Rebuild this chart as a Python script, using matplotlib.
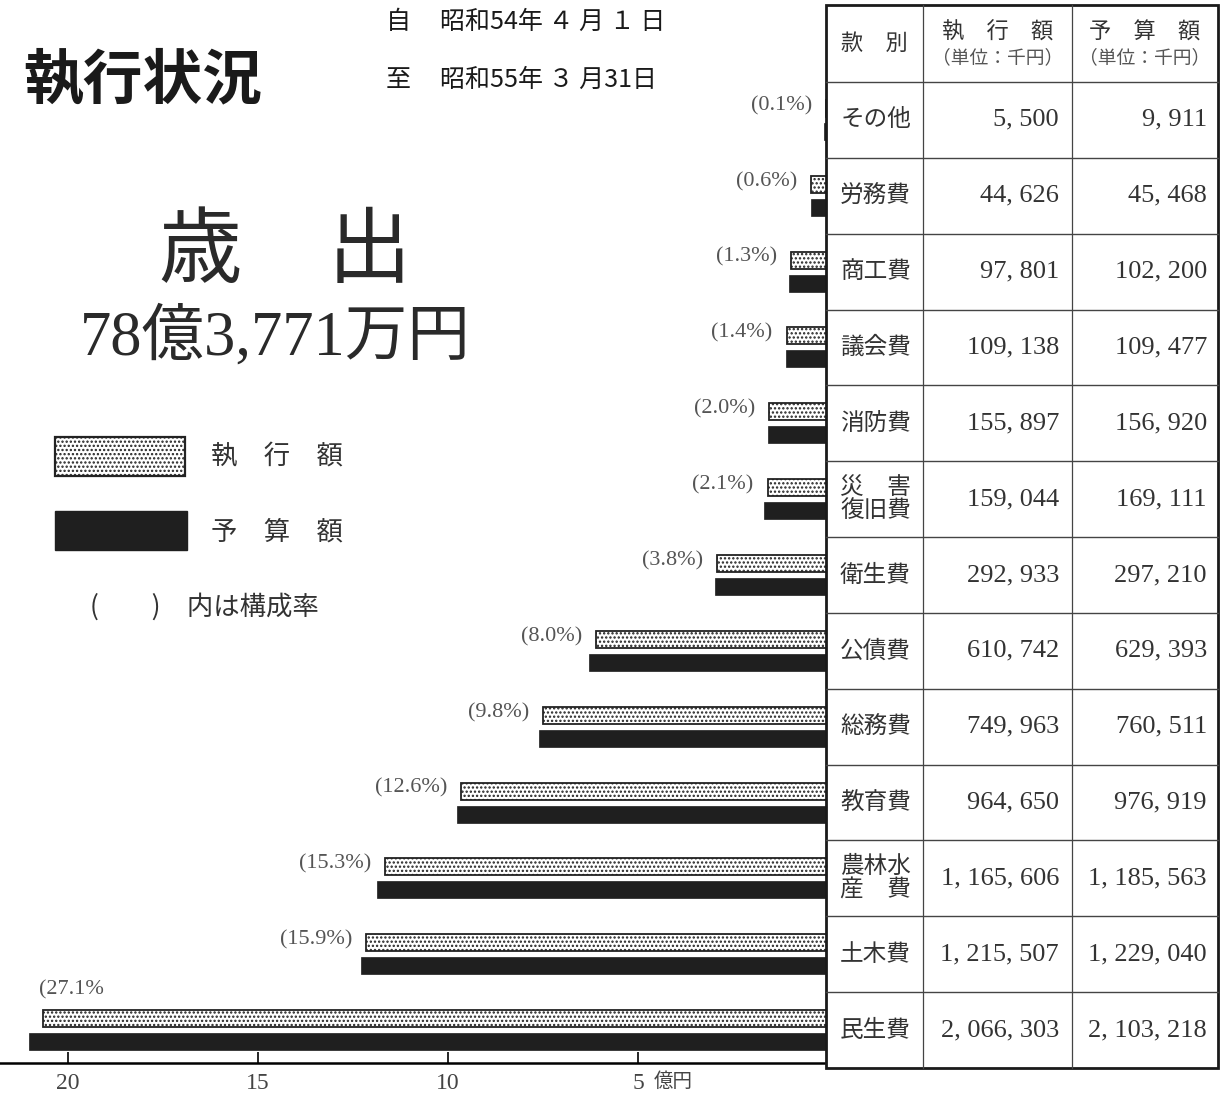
import matplotlib
matplotlib.use("Agg")
import matplotlib.pyplot as plt
from matplotlib.patches import Rectangle

plt.rcParams['font.family'] = ['Noto Sans CJK JP', 'DejaVu Sans']
plt.rcParams['hatch.linewidth'] = 1.1

# 款別（上から）
categories = ['その他', '労務費', '商工費', '議会費', '消防費', '災害復旧費', '衛生費',
              '公債費', '総務費', '教育費', '農林水産費', '土木費', '民生費']
# 表示用の款名（2行のもの）
cat_labels = ['その他', '労務費', '商工費', '議会費', '消防費', '災　害\n復旧費', '衛生費',
              '公債費', '総務費', '教育費', '農林水\n産　費', '土木費', '民生費']
# 執行額・予算額（単位：千円）
exec_vals = [5500, 44626, 97801, 109138, 155897, 159044, 292933,
             610742, 749963, 964650, 1165606, 1215507, 2066303]
budget_vals = [9911, 45468, 102200, 109477, 156920, 169111, 297210,
               629393, 760511, 976919, 1185563, 1229040, 2103218]
# 構成率
pct = ['0.1', '0.6', '1.3', '1.4', '2.0', '2.1', '3.8',
       '8.0', '9.8', '12.6', '15.3', '15.9', '27.1']
xticks = [20, 15, 10, 5]

W, H = 1222, 1093
fig = plt.figure(figsize=(W / 100, H / 100), dpi=100)

serif = ['Liberation Serif', 'Noto Sans CJK JP']
ink = '#2a2a2a'

# ---- 棒グラフ（億円、左向き）
row_h = 75.85
top_px, base_px, zero_px = 82, 1063, 828
ax = fig.add_axes([0, 1 - base_px / H, zero_px / W, (base_px - top_px) / H])
n = len(categories)
ex = [v / 1e5 for v in exec_vals]   # 千円 -> 億円
bu = [v / 1e5 for v in budget_vals]
y_ex = [i + 0.5 - 11.5 / row_h for i in range(n)]
y_bu = [i + 0.5 + 11.5 / row_h for i in range(n)]
bh = 17 / row_h
ax.barh(y_ex, ex, height=bh, color='white', edgecolor='#222222', hatch='....', lw=1.3)
ax.barh(y_bu, bu, height=bh, color='#1f1f1f', edgecolor='#1f1f1f', lw=0.5)

for i in range(n):
    if bu[i] > 20:
        ax.annotate(f'({pct[i]}%', (ex[i], y_ex[i]), xytext=(-3, 21), textcoords='offset points',
                    ha='left', va='center', fontsize=16, color='#555555', family=serif)
    else:
        ax.annotate(f'({pct[i]}%)', (ex[i], y_ex[i]), xytext=(-10, 2), textcoords='offset points',
                    ha='right', va='center', fontsize=16, color='#555555', family=serif)

ax.set_xlim(zero_px / 38.0, 0)
ax.set_ylim((base_px - top_px) / row_h, 0)
ax.set_yticks([])
ax.set_xticks(xticks)
ax.set_xticklabels([str(t) for t in xticks], family=serif, fontsize=17, color='#444444')
ax.annotate('億円', (5, 0), xycoords=('data', 'axes fraction'), xytext=(11, -6),
            textcoords='offset points', ha='left', va='top', fontsize=14, color='#444444')
ax.tick_params(axis='x', direction='in', length=8, width=1.2, pad=7)
for s in ['top', 'left', 'right']:
    ax.spines[s].set_visible(False)
ax.spines['bottom'].set_linewidth(1.8)
ax.patch.set_alpha(0)

# ---- 文字と表（ピクセル座標のオーバーレイ）
ov = fig.add_axes([0, 0, 1, 1])
ov.set_xlim(0, W)
ov.set_ylim(H, 0)
ov.axis('off')
ov.set_zorder(3)

ov.text(23, 82, '執行状況', fontsize=43, fontweight='bold', va='center', color='#1a1a1a')
ov.text(386, 22, '自', fontsize=18, va='center', color='#1a1a1a')
ov.text(386, 80, '至', fontsize=18, va='center', color='#1a1a1a')
ov.text(440, 22, '昭和54年 ４ 月 １ 日', fontsize=18, va='center', color='#1a1a1a')
ov.text(440, 80, '昭和55年 ３ 月31日', fontsize=18, va='center', color='#1a1a1a')
ov.text(158, 252, '歳', fontsize=60, va='center', color=ink)
ov.text(328, 252, '出', fontsize=60, va='center', color=ink)
ov.text(80, 338, '78億3,771万円', fontsize=45, va='center', color=ink, family=serif)

ov.add_patch(Rectangle((55, 437), 130, 39, facecolor='white', edgecolor='#222222',
                       hatch='....', lw=1.6))
ov.add_patch(Rectangle((55, 511), 132, 39, facecolor='#1f1f1f', edgecolor='#1f1f1f'))
ov.text(211, 457, '執　行　額', fontsize=19, va='center', color='#333333')
ov.text(211, 532, '予　算　額', fontsize=19, va='center', color='#333333')
ov.text(90, 607, '(　　)　内は構成率', fontsize=19, va='center', color='#333333')

# 表
tx0, tx1, tx2, tx3 = 826, 923, 1072, 1218
ty0, ty1, ty_end = 5, 82, 1068
ov.add_patch(Rectangle((tx0, ty0), tx3 - tx0, ty_end - ty0, facecolor='white',
                       edgecolor='#1a1a1a', lw=2.0))
rh = (ty_end - ty1) / n
for x in (tx1, tx2):
    ov.plot([x, x], [ty0, ty_end], color='#444444', lw=0.9)
for i in range(n):
    y = ty1 + i * rh
    ov.plot([tx0, tx3], [y, y], color='#444444', lw=1.0)

hc = (ty0 + ty1) / 2
ov.text((tx0 + tx1) / 2, hc, '款　別', fontsize=16, ha='center', va='center', color='#333333')
for xa, xb, lab in [(tx1, tx2, '執　行　額'), (tx2, tx3, '予　算　額')]:
    ov.text((xa + xb) / 2, hc - 11, lab, fontsize=16, ha='center', va='center', color='#333333')
    ov.text((xa + xb) / 2, hc + 14, '（単位：千円）', fontsize=13.5, ha='center', va='center',
            color='#555555')

for i in range(n):
    yc = ty1 + (i + 0.5) * rh
    ov.text((tx0 + tx1) / 2 + 1, yc, cat_labels[i], fontsize=17, ha='center', va='center',
            color='#333333', linespacing=1.0)
    ov.text(tx2 - 13, yc, f'{exec_vals[i]:,}'.replace(',', ', '), fontsize=19, ha='right',
            va='center', color='#333333', family=serif)
    ov.text(tx3 - 11, yc, f'{budget_vals[i]:,}'.replace(',', ', '), fontsize=19, ha='right',
            va='center', color='#333333', family=serif)

fig.savefig('out.png', dpi=100, facecolor='white')
